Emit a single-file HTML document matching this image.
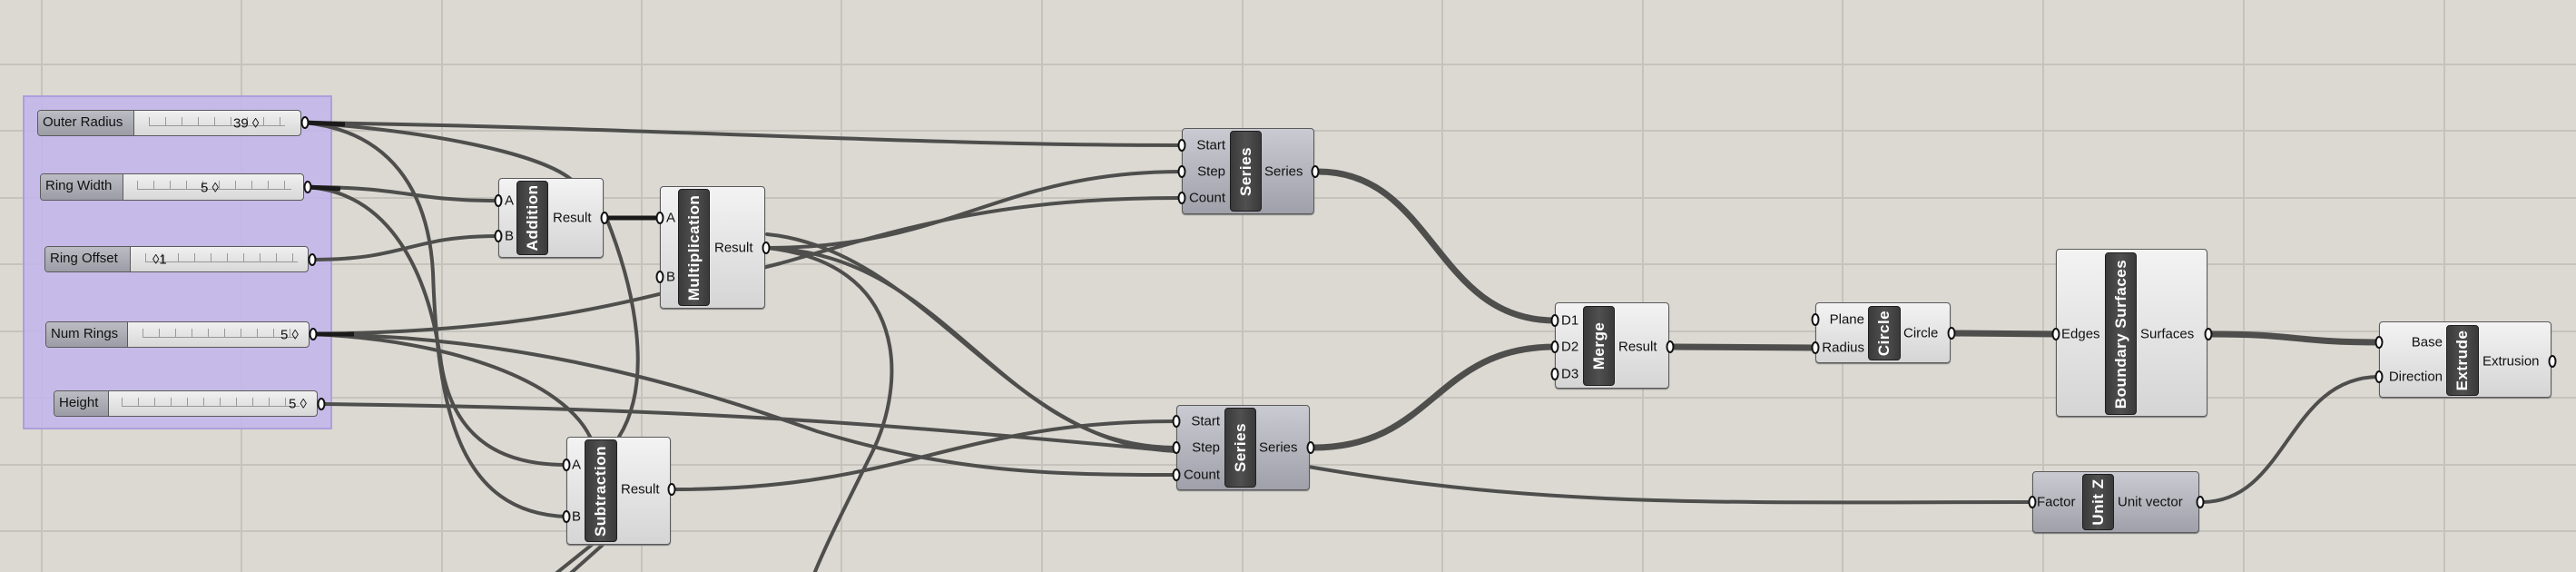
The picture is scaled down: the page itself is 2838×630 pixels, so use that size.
<!DOCTYPE html>
<html><head><meta charset="utf-8"><style>
html,body{margin:0;padding:0;width:2838px;height:630px;overflow:hidden;background:#dcd9d3;position:relative;font-family:"Liberation Sans",sans-serif}
svg{position:absolute;left:0;top:0}
.n{position:absolute;box-sizing:border-box;border:1.5px solid #5a5a5a;border-radius:4px;background:linear-gradient(#f3f3f3,#d5d5d5);box-shadow:0 1px 1px #777}
.d{background:linear-gradient(#cacad2,#a0a0aa)}
.bar{position:absolute;box-sizing:border-box;background:linear-gradient(90deg,#3a3a3a,#505050,#3a3a3a);border:1px solid #1e1e1e;border-radius:4px}
.bar span{position:absolute;left:50%;top:50%;transform:translate(-50%,-50%) rotate(-90deg);color:#fff;font:bold 17px "Liberation Sans",sans-serif;white-space:nowrap;letter-spacing:.5px}
.t{position:absolute;font:15px "Liberation Sans",sans-serif;color:#111;transform:translateY(-50%);white-space:nowrap;line-height:1}
.r{transform:translate(-100%,-50%)}
.p{position:absolute;box-sizing:border-box;width:9px;height:14px;border:2.5px solid #111;border-radius:50%;background:#fff;transform:translate(-50%,-50%)}
.sl{position:absolute;box-sizing:border-box;border:1.5px solid #5a5a5a;border-radius:4px;background:linear-gradient(#f0f0f0,#d8d8d8);overflow:hidden}
.sl .lb{position:absolute;left:0;top:0;bottom:0;background:linear-gradient(#bcbcc4,#9c9ca6);border-right:1.5px solid #5a5a5a;font:15px "Liberation Sans",sans-serif;line-height:26px;padding-left:5px;box-sizing:border-box;color:#111}
.sl .tk{position:absolute;top:7px;height:9px;border-bottom:1px solid #999;background:repeating-linear-gradient(90deg,#999 0 1px,transparent 1px 18px)}
</style></head><body>
<svg width="2838" height="630">
<g stroke="#c6c3bd" stroke-width="2">
<line x1="46" y1="0" x2="46" y2="630"/><line x1="266" y1="0" x2="266" y2="630"/><line x1="487" y1="0" x2="487" y2="630"/><line x1="707" y1="0" x2="707" y2="630"/><line x1="927" y1="0" x2="927" y2="630"/><line x1="1148" y1="0" x2="1148" y2="630"/><line x1="1369" y1="0" x2="1369" y2="630"/><line x1="1589" y1="0" x2="1589" y2="630"/><line x1="1810" y1="0" x2="1810" y2="630"/><line x1="2030" y1="0" x2="2030" y2="630"/><line x1="2251" y1="0" x2="2251" y2="630"/><line x1="2472" y1="0" x2="2472" y2="630"/><line x1="2693" y1="0" x2="2693" y2="630"/>
<line x1="0" y1="71" x2="2838" y2="71"/><line x1="0" y1="144" x2="2838" y2="144"/><line x1="0" y1="218" x2="2838" y2="218"/><line x1="0" y1="291" x2="2838" y2="291"/><line x1="0" y1="365" x2="2838" y2="365"/><line x1="0" y1="438" x2="2838" y2="438"/><line x1="0" y1="512" x2="2838" y2="512"/><line x1="0" y1="585" x2="2838" y2="585"/>
</g>
<rect x="26" y="106" width="339" height="366" fill="#c3b6ea" fill-opacity="0.9" stroke="#ad9fdc" stroke-width="2"/>
<g fill="none" stroke="#4e4e4c" stroke-width="4" stroke-linecap="round">
<path d="M336,135 C700,140 1000,160 1302,160"/>
<path d="M336,135 C480,145 600,170 632,200"/>
<path d="M668,240 C700,320 720,420 682,481"/>
<path d="M652,600 L612,632"/><path d="M664,600 L628,632"/>
<path d="M336,135 C430,145 472,210 477,300 C482,450 505,565 624,569"/>
<path d="M338,206 C430,212 472,300 486,400 C500,490 560,512 624,512"/>
<path d="M338,206 C450,206 450,221 549,221"/>
<path d="M343,286 C450,286 450,260 549,260"/>
<path d="M344,368 C600,365 700,330 860,290 C1000,250 1100,218 1302,218"/>
<path d="M845,273 C1050,273 1100,189 1302,189"/>
<path d="M845,273 C1050,280 1100,493 1296,493"/>
<path d="M845,258 C1020,275 1110,490 1296,497"/>
<path d="M845,273 C1000,290 1000,420 960,500 C930,560 910,600 897,632"/>
<path d="M344,368 C600,370 800,440 900,475 C1050,520 1150,523 1296,523"/>
<path d="M344,368 C500,375 620,420 650,481"/>
<path d="M353,445 C800,450 1000,470 1296,497"/>
<path d="M742,539 C1000,539 1050,464 1296,464"/>
<path d="M1430,512 C1700,560 1900,553 2239,553"/>
<path d="M2426,553 C2520,553 2520,415 2621,415"/>
</g>
<g fill="none" stroke="#1a1a1a" stroke-width="5">
<path d="M668,240 L727,240"/>
<path d="M336,135 L380,137"/><path d="M338,206 L375,208"/><path d="M344,368 L390,368"/>
</g>
<g fill="none" stroke="#4e4e4c" stroke-width="7" stroke-linecap="round">
<path d="M1452,189 C1580,189 1580,353 1713,353"/>
<path d="M1447,493 C1580,493 1580,382 1713,382"/>
<path d="M1843,382 L2000,383"/>
<path d="M2152,367 L2265,368"/>
<path d="M2436,368 C2530,368 2530,377 2621,377"/>
</g>
</svg>

<!-- sliders -->
<div class="sl" style="left:41px;top:121px;width:291px;height:29px"><div class="lb" style="width:106px">Outer Radius</div><div class="tk" style="left:122px;width:150px"></div><div class="t" style="left:215px;top:14px">39 ◊</div></div>
<div class="sl" style="left:44px;top:191px;width:291px;height:30px"><div class="lb" style="width:91px">Ring Width</div><div class="tk" style="left:106px;width:170px"></div><div class="t" style="left:176px;top:15px">5 ◊</div></div>
<div class="sl" style="left:49px;top:271px;width:291px;height:29px"><div class="lb" style="width:94px">Ring Offset</div><div class="tk" style="left:110px;width:168px"></div><div class="t" style="left:118px;top:14px">◊1</div></div>
<div class="sl" style="left:50px;top:354px;width:291px;height:29px"><div class="lb" style="width:90px">Num Rings</div><div class="tk" style="left:106px;width:170px"></div><div class="t" style="left:258px;top:14px">5 ◊</div></div>
<div class="sl" style="left:59px;top:430px;width:291px;height:29px"><div class="lb" style="width:60px">Height</div><div class="tk" style="left:74px;width:196px"></div><div class="t" style="left:258px;top:14px">5 ◊</div></div>
<div class="p" style="left:336px;top:135px"></div><div class="p" style="left:339px;top:206px"></div><div class="p" style="left:344px;top:286px"></div><div class="p" style="left:345px;top:368px"></div><div class="p" style="left:354px;top:445px"></div>

<!-- Addition -->
<div class="n" style="left:549px;top:196px;width:116px;height:88px"></div>
<div class="bar" style="left:569px;top:199px;width:35px;height:82px"><span>Addition</span></div>
<div class="t" style="left:556px;top:221px">A</div><div class="t" style="left:556px;top:260px">B</div><div class="t" style="left:609px;top:240px">Result</div>
<div class="p" style="left:549px;top:221px"></div><div class="p" style="left:549px;top:260px"></div><div class="p" style="left:666px;top:240px"></div>

<!-- Multiplication -->
<div class="n" style="left:727px;top:205px;width:116px;height:135px"></div>
<div class="bar" style="left:747px;top:208px;width:35px;height:129px"><span>Multiplication</span></div>
<div class="t" style="left:734px;top:240px">A</div><div class="t" style="left:734px;top:305px">B</div><div class="t" style="left:787px;top:273px">Result</div>
<div class="p" style="left:727px;top:240px"></div><div class="p" style="left:727px;top:305px"></div><div class="p" style="left:844px;top:273px"></div>

<!-- Subtraction -->
<div class="n" style="left:624px;top:481px;width:115px;height:119px"></div>
<div class="bar" style="left:644px;top:484px;width:36px;height:113px"><span>Subtraction</span></div>
<div class="t" style="left:630px;top:512px">A</div><div class="t" style="left:630px;top:569px">B</div><div class="t" style="left:684px;top:539px">Result</div>
<div class="p" style="left:624px;top:512px"></div><div class="p" style="left:624px;top:569px"></div><div class="p" style="left:740px;top:539px"></div>

<!-- Series 1 -->
<div class="n d" style="left:1302px;top:141px;width:146px;height:95px"></div>
<div class="bar" style="left:1355px;top:144px;width:35px;height:89px"><span>Series</span></div>
<div class="t r" style="left:1350px;top:160px">Start</div><div class="t r" style="left:1350px;top:189px">Step</div><div class="t r" style="left:1350px;top:218px">Count</div><div class="t" style="left:1393px;top:189px">Series</div>
<div class="p" style="left:1302px;top:160px"></div><div class="p" style="left:1302px;top:189px"></div><div class="p" style="left:1302px;top:218px"></div><div class="p" style="left:1449px;top:189px"></div>

<!-- Series 2 -->
<div class="n d" style="left:1296px;top:446px;width:147px;height:94px"></div>
<div class="bar" style="left:1349px;top:449px;width:35px;height:88px"><span>Series</span></div>
<div class="t r" style="left:1344px;top:464px">Start</div><div class="t r" style="left:1344px;top:493px">Step</div><div class="t r" style="left:1344px;top:523px">Count</div><div class="t" style="left:1387px;top:493px">Series</div>
<div class="p" style="left:1296px;top:464px"></div><div class="p" style="left:1296px;top:493px"></div><div class="p" style="left:1296px;top:523px"></div><div class="p" style="left:1444px;top:493px"></div>

<!-- Merge -->
<div class="n" style="left:1713px;top:333px;width:126px;height:95px"></div>
<div class="bar" style="left:1744px;top:337px;width:35px;height:88px"><span>Merge</span></div>
<div class="t" style="left:1720px;top:353px">D1</div><div class="t" style="left:1720px;top:382px">D2</div><div class="t" style="left:1720px;top:412px">D3</div><div class="t" style="left:1783px;top:382px">Result</div>
<div class="p" style="left:1713px;top:353px"></div><div class="p" style="left:1713px;top:382px"></div><div class="p" style="left:1713px;top:412px"></div><div class="p" style="left:1840px;top:382px"></div>

<!-- Circle -->
<div class="n" style="left:2000px;top:333px;width:149px;height:67px"></div>
<div class="bar" style="left:2058px;top:337px;width:36px;height:60px"><span>Circle</span></div>
<div class="t r" style="left:2054px;top:352px">Plane</div><div class="t r" style="left:2054px;top:383px">Radius</div><div class="t" style="left:2097px;top:367px">Circle</div>
<div class="p" style="left:2000px;top:352px"></div><div class="p" style="left:2000px;top:383px"></div><div class="p" style="left:2150px;top:367px"></div>

<!-- Boundary Surfaces -->
<div class="n" style="left:2265px;top:274px;width:167px;height:185px"></div>
<div class="bar" style="left:2319px;top:278px;width:35px;height:179px"><span>Boundary Surfaces</span></div>
<div class="t" style="left:2271px;top:368px">Edges</div><div class="t" style="left:2358px;top:368px">Surfaces</div>
<div class="p" style="left:2265px;top:368px"></div><div class="p" style="left:2433px;top:368px"></div>

<!-- Extrude -->
<div class="n" style="left:2621px;top:354px;width:190px;height:84px"></div>
<div class="bar" style="left:2695px;top:358px;width:36px;height:78px"><span>Extrude</span></div>
<div class="t r" style="left:2691px;top:377px">Base</div><div class="t r" style="left:2691px;top:415px">Direction</div><div class="t" style="left:2735px;top:398px">Extrusion</div>
<div class="p" style="left:2621px;top:377px"></div><div class="p" style="left:2621px;top:415px"></div><div class="p" style="left:2812px;top:398px"></div>

<!-- Unit Z -->
<div class="n d" style="left:2239px;top:519px;width:184px;height:68px"></div>
<div class="bar" style="left:2294px;top:522px;width:35px;height:62px"><span>Unit Z</span></div>
<div class="t" style="left:2244px;top:553px">Factor</div><div class="t" style="left:2333px;top:553px">Unit vector</div>
<div class="p" style="left:2239px;top:553px"></div><div class="p" style="left:2424px;top:553px"></div>
</body></html>
